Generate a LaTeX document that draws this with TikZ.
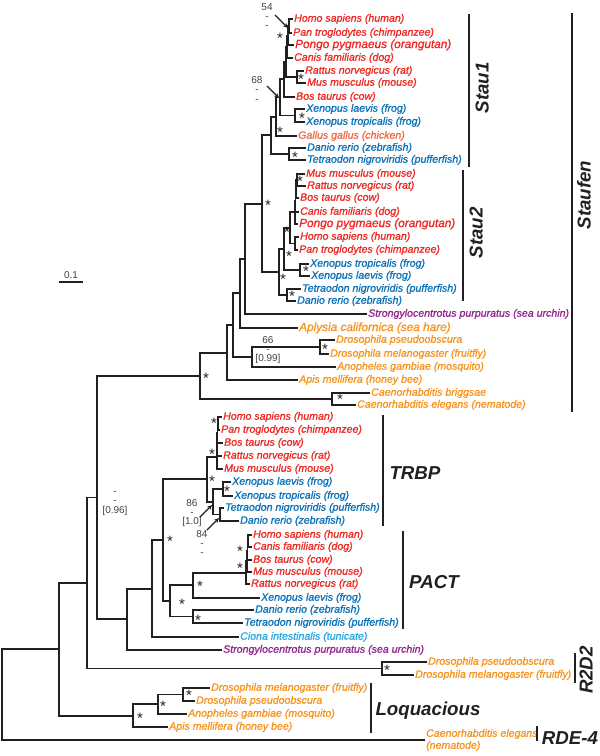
\documentclass[tikz,border=0pt]{standalone}
\usepackage{fontspec}
\setmainfont{Liberation Sans}
\newfontfamily\lf{Liberation Sans}[FakeBold=1.1]
\usetikzlibrary{calc,arrows.meta}
\definecolor{cr}{HTML}{EE2A24}
\definecolor{cb}{HTML}{0B72BA}
\definecolor{co}{HTML}{F7941D}
\definecolor{cg}{HTML}{F26A45}
\definecolor{cp}{HTML}{92278F}
\definecolor{cc}{HTML}{27AAE1}
\definecolor{ck}{HTML}{231F20}
\tikzset{
 leaf/.style={anchor=west, inner sep=0pt, font=\lf\itshape\fontsize{10.6}{12}\selectfont, text height=7.6pt, text depth=2.2pt},
 bigleaf/.style={leaf, font=\lf\itshape\fontsize{11.8}{13}\selectfont, text height=8.4pt, text depth=2.4pt},
 brline/.style={draw=ck, line width=1.9pt},
 cbar/.style={draw=ck, line width=2.4pt},
 clab/.style={font=\bfseries\itshape\fontsize{18.7}{20}\selectfont, text=ck, inner sep=0pt, text height=13.4pt, text depth=0pt},
 st/.style={font=\fontsize{15}{15}\selectfont, text=ck, inner sep=0pt, yshift=-3.2pt},
 ann/.style={font=\fontsize{10}{10}\selectfont, text=ck!85, inner sep=0pt, text height=7pt, text depth=0pt},
 stack/.style={font=\fontsize{10}{9.2}\selectfont, text=ck!85, inner sep=0pt, align=center},
 aarr/.style={draw=ck, line width=1.4pt, -{Stealth[length=5pt,width=4.5pt]}},
}
\newcommand\mklf[5]{\node[leaf,text=#4] (#1) at (#2,#3) {#5};}
\newcommand\mkbig[5]{\node[bigleaf,text=#4] (#1) at (#2,#3) {#5};}
\newcommand\mktn[4]{\path let \p1=($(#3)!.5!(#4)$) in coordinate (#1) at (#2pt,\y1);}
\newcommand\brc[2]{\draw[brline] (#2) -| (#1);}
\newcommand\brl[2]{\draw[brline] ([xshift=-1pt]#2.west) -| (#1);}
\newcommand\stt[3]{\node[st] (#1) at (#2,#3) {*};}
\begin{document}
\begin{tikzpicture}[x=1pt,y=-1pt]
\fill[white] (0,0) rectangle (600,756);
\useasboundingbox (0,0) rectangle (600,756);
% ---------- leaves: Stau1
\mklf{a1}{294}{19}{cr}{Homo sapiens (human)}
\mklf{a2}{293}{33}{cr}{Pan troglodytes (chimpanzee)}
\mkbig{a3}{295}{45}{cr}{Pongo pygmaeus (orangutan)}
\mklf{a4}{294}{58}{cr}{Canis familiaris (dog)}
\mklf{a5}{305}{71}{cr}{Rattus norvegicus (rat)}
\mklf{a6}{307}{83}{cr}{Mus musculus (mouse)}
\mklf{a7}{296}{97}{cr}{Bos taurus (cow)}
\mklf{a8}{306}{109}{cb}{Xenopus laevis (frog)}
\mklf{a9}{306}{122}{cb}{Xenopus tropicalis (frog)}
\mklf{a10}{298}{136}{cg}{Gallus gallus (chicken)}
\mklf{a11}{307}{148}{cb}{Danio rerio (zebrafish)}
\mklf{a12}{307}{160}{cb}{Tetraodon nigroviridis (pufferfish)}
% Stau2
\mklf{b1}{306}{174}{cr}{Mus musculus (mouse)}
\mklf{b2}{307}{186}{cr}{Rattus norvegicus (rat)}
\mklf{b3}{300}{198}{cr}{Bos taurus (cow)}
\mklf{b4}{300}{212}{cr}{Canis familiaris (dog)}
\mkbig{b5}{299}{224}{cr}{Pongo pygmaeus (orangutan)}
\mklf{b6}{300}{237}{cr}{Homo sapiens (human)}
\mklf{b7}{299}{250}{cr}{Pan troglodytes (chimpanzee)}
\mklf{b8}{310}{264}{cb}{Xenopus tropicalis (frog)}
\mklf{b9}{311}{276}{cb}{Xenopus laevis (frog)}
\mklf{b10}{302}{289}{cb}{Tetraodon nigroviridis (pufferfish)}
\mklf{b11}{297}{301}{cb}{Danio rerio (zebrafish)}
% other Staufen
\mklf{c1}{368}{314}{cp}{Strongylocentrotus purpuratus (sea urchin)}
\mkbig{c2}{299}{328}{co}{Aplysia californica (sea hare)}
\mklf{c3}{336}{340}{co}{Drosophila pseudoobscura}
\mklf{c4}{330}{354}{co}{Drosophila melanogaster (fruitfly)}
\mklf{c5}{337}{367}{co}{Anopheles gambiae (mosquito)}
\mklf{c6}{299}{380}{co}{Apis mellifera (honey bee)}
\mklf{c7}{371}{393}{co}{Caenorhabditis briggsae}
\mklf{c8}{357}{405}{co}{Caenorhabditis elegans (nematode)}
% TRBP
\mklf{d1}{223}{417}{cr}{Homo sapiens (human)}
\mklf{d2}{221}{430}{cr}{Pan troglodytes (chimpanzee)}
\mklf{d3}{224}{443}{cr}{Bos taurus (cow)}
\mklf{d4}{223}{456}{cr}{Rattus norvegicus (rat)}
\mklf{d5}{224}{469}{cr}{Mus musculus (mouse)}
\mklf{d6}{232}{482}{cb}{Xenopus laevis (frog)}
\mklf{d7}{234}{496}{cb}{Xenopus tropicalis (frog)}
\mklf{d8}{225}{508}{cb}{Tetraodon nigroviridis (pufferfish)}
\mklf{d9}{240}{521}{cb}{Danio rerio (zebrafish)}
% PACT
\mklf{e1}{253}{535}{cr}{Homo sapiens (human)}
\mklf{e2}{253}{547}{cr}{Canis familiaris (dog)}
\mklf{e3}{253}{560}{cr}{Bos taurus (cow)}
\mklf{e4}{253}{572}{cr}{Mus musculus (mouse)}
\mklf{e5}{251}{584}{cr}{Rattus norvegicus (rat)}
\mklf{e6}{261}{598}{cb}{Xenopus laevis (frog)}
\mklf{e7}{255}{610}{cb}{Danio rerio (zebrafish)}
\mklf{e8}{244}{623}{cb}{Tetraodon nigroviridis (pufferfish)}
\mklf{e9}{240}{637}{cc}{Ciona intestinalis (tunicate)}
\mklf{e10}{223}{650}{cp}{Strongylocentrotus purpuratus (sea urchin)}
% R2D2
\mklf{f1}{428}{662}{co}{Drosophila pseudoobscura}
\mklf{f2}{415}{675}{co}{Drosophila melanogaster (fruitfly)}
% Loquacious
\mklf{g1}{211}{688}{co}{Drosophila melanogaster (fruitfly)}
\mklf{g2}{196}{701}{co}{Drosophila pseudoobscura}
\mklf{g3}{188}{714}{co}{Anopheles gambiae (mosquito)}
\mklf{g4}{169}{727}{co}{Apis mellifera (honey bee)}
% RDE-4
\node[leaf,text=co,align=left,text height=,text depth=] (h1) at (426,740) {Caenorhabditis elegans\\(nematode)};
% ---------- internal nodes
\mktn{s1a}{289}{a1}{a2}
\mktn{s1b}{288}{s1a}{a3}
\mktn{s1c}{287}{s1b}{a4}
\mktn{s1d}{297}{a5}{a6}
\mktn{s1e}{286}{s1c}{s1d}
\mktn{s1f}{284}{s1e}{a7}
\mktn{s1x}{295}{a8}{a9}
\mktn{s1g}{280}{s1f}{s1x}
\mktn{s1h}{276}{s1g}{a10}
\mktn{s1fi}{289}{a11}{a12}
\mktn{s1}{271}{s1h}{s1fi}
\mktn{s2a}{297}{b1}{b2}
\mktn{s2b}{296}{s2a}{b3}
\mktn{s2c}{295.5}{s2b}{b4}
\mktn{s2d}{295}{s2c}{b5}
\mktn{s2e}{295}{b6}{b7}
\mktn{s2m}{290}{s2d}{s2e}
\mktn{s2x}{300}{b8}{b9}
\mktn{s2mx}{284}{s2m}{s2x}
\mktn{s2f}{287}{b10}{b11}
\mktn{s2}{279}{s2mx}{s2f}
\mktn{n12}{262}{s1}{s2}
\mktn{na}{245}{n12}{c1}
\mktn{nb}{240}{na}{c2}
\mktn{ndr}{320}{c3}{c4}
\mktn{nda}{252}{ndr}{c5}
\mktn{nc}{233}{nb}{nda}
\mktn{nd}{227}{nc}{c6}
\mktn{nce}{332}{c7}{c8}
\mktn{nst}{200}{nd}{nce}
\mktn{t1}{218}{d1}{d2}
\mktn{t2}{217.5}{t1}{d3}
\mktn{t3}{217}{t2}{d4}
\mktn{tm}{217}{t3}{d5}
\mktn{tx}{223}{d6}{d7}
\mktn{tf}{220}{d8}{d9}
\mktn{txf}{213}{tx}{tf}
\mktn{trbp}{207}{tm}{txf}
\mktn{p1}{248}{e1}{e2}
\mktn{p2}{247.5}{p1}{e3}
\mktn{p3}{247}{p2}{e4}
\mktn{pm}{246}{p3}{e5}
\mktn{pmx}{193}{pm}{e6}
\mktn{pf}{193}{e7}{e8}
\mktn{pact}{170}{pmx}{pf}
\mktn{tp}{163}{trbp}{pact}
\mktn{u}{152}{tp}{e9}
\mktn{v}{127}{u}{e10}
\mktn{s97}{97}{nst}{v}
\mktn{r2}{382}{f1}{f2}
\mktn{w}{87}{s97}{r2}
\mktn{l1}{183}{g1}{g2}
\mktn{l2}{158}{l1}{g3}
\mktn{loq}{133}{l2}{g4}
\mktn{a40}{59}{w}{loq}
\mktn{root}{2}{a40}{h1}
% ---------- branches
\brl{s1a}{a1}\brl{s1a}{a2}\brc{s1b}{s1a}\brl{s1b}{a3}
\brc{s1c}{s1b}\brl{s1c}{a4}\brl{s1d}{a5}\brl{s1d}{a6}
\brc{s1e}{s1c}\brc{s1e}{s1d}\brc{s1f}{s1e}\brl{s1f}{a7}
\brl{s1x}{a8}\brl{s1x}{a9}\brc{s1g}{s1f}\brc{s1g}{s1x}
\brc{s1h}{s1g}\brl{s1h}{a10}\brl{s1fi}{a11}\brl{s1fi}{a12}
\brc{s1}{s1h}\brc{s1}{s1fi}
\brl{s2a}{b1}\brl{s2a}{b2}\brc{s2b}{s2a}\brl{s2b}{b3}
\brc{s2c}{s2b}\brl{s2c}{b4}\brc{s2d}{s2c}\brl{s2d}{b5}
\brl{s2e}{b6}\brl{s2e}{b7}\brc{s2m}{s2d}\brc{s2m}{s2e}
\brl{s2x}{b8}\brl{s2x}{b9}\brc{s2mx}{s2m}\brc{s2mx}{s2x}
\brl{s2f}{b10}\brl{s2f}{b11}\brc{s2}{s2mx}\brc{s2}{s2f}
\brc{n12}{s1}\brc{n12}{s2}
\brc{na}{n12}\brl{na}{c1}\brc{nb}{na}\brl{nb}{c2}
\brl{ndr}{c3}\brl{ndr}{c4}\brc{nda}{ndr}\brl{nda}{c5}
\brc{nc}{nb}\brc{nc}{nda}\brc{nd}{nc}\brl{nd}{c6}
\brl{nce}{c7}\brl{nce}{c8}\brc{nst}{nd}\brc{nst}{nce}
\brl{t1}{d1}\brl{t1}{d2}\brc{t2}{t1}\brl{t2}{d3}
\brc{t3}{t2}\brl{t3}{d4}\brc{tm}{t3}\brl{tm}{d5}
\brl{tx}{d6}\brl{tx}{d7}\brl{tf}{d8}\brl{tf}{d9}
\brc{txf}{tx}\brc{txf}{tf}\brc{trbp}{tm}\brc{trbp}{txf}
\brl{p1}{e1}\brl{p1}{e2}\brc{p2}{p1}\brl{p2}{e3}
\brc{p3}{p2}\brl{p3}{e4}\brc{pm}{p3}\brl{pm}{e5}
\brc{pmx}{pm}\brl{pmx}{e6}\brl{pf}{e7}\brl{pf}{e8}
\brc{pact}{pmx}\brc{pact}{pf}\brc{tp}{trbp}\brc{tp}{pact}
\brc{u}{tp}\brl{u}{e9}\brc{v}{u}\brl{v}{e10}
\brc{s97}{nst}\brc{s97}{v}
\brl{r2}{f1}\brl{r2}{f2}\brc{w}{s97}\brc{w}{r2}
\brl{l1}{g1}\brl{l1}{g2}\brc{l2}{l1}\brl{l2}{g3}
\brc{loq}{l2}\brl{loq}{g4}
\brc{a40}{w}\brc{a40}{loq}
\brc{root}{a40}\brl{root}{h1}
% ---------- support stars
\stt{k1}{280}{35}\stt{k2}{301}{76}\stt{k3}{302}{115}\stt{k4}{280}{129}\stt{k5}{295}{154}
\stt{k6}{268}{202}
\stt{k7}{300}{178}\stt{k8}{287}{229}\stt{k9}{289}{253}\stt{k10}{306}{268}\stt{k11}{283}{276}\stt{k12}{292}{293}
\stt{k13}{325}{346}\stt{k14}{206}{375}\stt{k15}{340}{396}
\stt{k16}{214}{420}\stt{k17}{212}{451}\stt{k18}{212}{478}\stt{k19}{227}{488}
\stt{k20}{170}{538}\stt{k21}{240}{548}\stt{k22}{240}{565}\stt{k23}{200}{583}\stt{k24}{182}{601}\stt{k25}{198}{617}
\stt{k26}{387}{667}\stt{k27}{189}{692}\stt{k28}{163}{703}\stt{k29}{140}{715}
% ---------- annotations (stacked support values)
\node[stack] (q54) at (267,16) {54\\-\\-};
\coordinate (q54s) at (275,15); \coordinate (q54e) at (288,28);
\draw[aarr] (q54s) -- (q54e);
\node[stack] (q68) at (257,89.5) {68\\-\\-};
\coordinate (q68s) at (267,86); \coordinate (q68e) at (279,98);
\draw[aarr] (q68s) -- (q68e);
\node[stack] (q66) at (268,350) {66\\-\\{[0.99]}};
\node[stack] (q96) at (115,503.5) {-\\-\\{[0.96]}};
\node[stack] (q86) at (192,513) {86\\-\\{[1.0]}};
\coordinate (q86s) at (200,517); \coordinate (q86e) at (212,505);
\draw[aarr] (q86s) -- (q86e);
\node[stack] (q84) at (202,543) {84\\-\\-};
\coordinate (q84s) at (207,530); \coordinate (q84e) at (219,518);
\draw[aarr] (q84s) -- (q84e);
% ---------- scale bar
\node[ann] (sc) at (71,275) {0.1};
\coordinate (sca) at (59,282); \coordinate (scb) at (83,282);
\draw[draw=ck, line width=1.3pt] (sca) -- (scb);
% ---------- clade bars and labels
\coordinate (u1a) at (469,14); \coordinate (u1b) at (469,167);
\draw[cbar] (u1a) -- (u1b);
\node[clab, rotate=90] (L1) at (482,88) {Stau1};
\coordinate (u2a) at (463,170); \coordinate (u2b) at (463,301);
\draw[cbar] (u2a) -- (u2b);
\node[clab, rotate=90] (L2) at (476,233) {Stau2};
\coordinate (u3a) at (572,13); \coordinate (u3b) at (572,412);
\draw[cbar] (u3a) -- (u3b);
\node[clab, rotate=90] (L3) at (584,195) {Staufen};
\coordinate (u4a) at (383,415); \coordinate (u4b) at (383,526);
\draw[cbar] (u4a) -- (u4b);
\node[clab] (L4) at (415,473) {TRBP};
\coordinate (u5a) at (403,531); \coordinate (u5b) at (403,629);
\draw[cbar] (u5a) -- (u5b);
\node[clab] (L5) at (434,582) {PACT};
\coordinate (u6a) at (575,653); \coordinate (u6b) at (575,683);
\draw[cbar] (u6a) -- (u6b);
\node[clab, rotate=90] (L6) at (586,670) {R2D2};
\coordinate (u7a) at (371,683); \coordinate (u7b) at (371,733);
\draw[cbar] (u7a) -- (u7b);
\node[clab] (L7) at (428,709) {Loquacious};
\coordinate (u8a) at (537,726); \coordinate (u8b) at (537,741);
\draw[cbar] (u8a) -- (u8b);
\node[clab] (L8) at (570,738) {RDE-4};
\end{tikzpicture}
\end{document}
